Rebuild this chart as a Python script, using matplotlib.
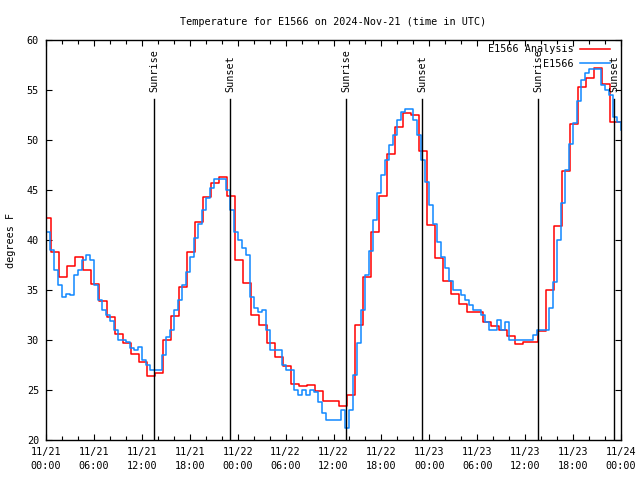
import numpy as np
import matplotlib
matplotlib.use("Agg")
import matplotlib.pyplot as plt
import matplotlib.dates as mdates

# analysis: hourly values, first step starts 20 min before midnight
red_start = np.datetime64("2024-11-20T23:40")
red_temp = [42.2, 38.8, 36.3, 37.4, 38.3, 37.0, 35.6, 33.9, 32.3, 30.6, 29.7, 28.6,
            27.8, 26.4, 26.7, 30.0, 32.4, 35.3, 38.8, 41.8, 44.3, 45.7, 46.3, 44.4,
            38.0, 35.7, 32.5, 31.5, 29.7, 28.3, 27.4, 25.6, 25.4, 25.5, 24.9, 23.9,
            23.9, 23.4, 24.5, 31.5, 36.3, 40.8, 44.4, 48.6, 51.3, 52.7, 52.5, 48.9,
            41.5, 38.2, 35.9, 34.6, 33.6, 32.8, 32.8, 31.8, 31.4, 31.0, 30.4, 29.6,
            29.8, 29.8, 30.9, 35.0, 41.4, 46.9, 51.6, 55.3, 56.2, 57.2, 55.6, 51.8, 51.8]

# observations: half-hourly values from 11/21 00:00
blue_start = np.datetime64("2024-11-21T00:00")
blue_temp = [40.8, 39.0, 37.0, 35.5, 34.3, 34.6, 34.5, 36.5, 37.0, 38.0, 38.5, 38.0,
             35.5, 34.0, 33.0, 32.5, 31.9, 31.0, 30.0, 30.0, 29.8, 29.2, 29.0, 29.3,
             28.0, 27.5, 27.0, 27.0, 27.0, 28.5, 30.3, 31.0, 33.0, 34.0, 35.5, 36.8,
             38.3, 40.2, 41.6, 43.0, 44.2, 45.2, 46.1, 46.1, 46.1, 45.0, 43.0, 40.8,
             40.0, 39.2, 38.5, 34.3, 33.2, 32.8, 33.0, 31.0, 29.0, 29.0, 29.0, 27.5,
             27.0, 27.0, 25.0, 24.5, 25.0, 24.5, 25.0, 24.8, 23.8, 22.7, 22.0, 22.0,
             22.0, 22.0, 23.0, 21.2, 23.0, 26.5, 29.7, 33.0, 36.5, 38.9, 42.0, 44.7,
             46.5, 48.0, 49.5, 50.5, 52.0, 52.8, 53.1, 53.1, 52.0, 50.5, 48.0, 45.8,
             43.5, 41.6, 39.8, 38.3, 37.2, 35.9, 35.0, 35.0, 34.5, 34.0, 33.5, 33.0,
             33.0, 32.5, 31.8, 31.0, 31.0, 32.0, 31.0, 31.8, 30.0, 30.0, 30.0, 30.0,
             30.0, 30.0, 30.5, 31.0, 31.0, 31.0, 33.2, 35.8, 40.0, 43.7, 47.0, 49.6,
             51.7, 53.9, 56.0, 56.7, 57.1, 57.1, 57.1, 55.5, 55.0, 54.5, 52.3, 51.8, 51.0]

sun_events = ["2024-11-21T13:34", "2024-11-21T23:05", "2024-11-22T13:36",
              "2024-11-22T23:07", "2024-11-23T13:39", "2024-11-23T23:10"]
sun_labels = ["Sunrise", "Sunset", "Sunrise", "Sunset", "Sunrise", "Sunset"]

FONT = "DejaVu Sans Mono"
FS = 7.3

red_t = red_start + np.arange(len(red_temp) + 1) * np.timedelta64(60, "m")
red_y = red_temp + [red_temp[-1]]
blue_t = blue_start + np.arange(len(blue_temp)) * np.timedelta64(30, "m")

fig = plt.figure(figsize=(6.4, 4.8), dpi=100)
ax = fig.add_axes([46 / 640, 40 / 480, 575 / 640, 400 / 480])

ax.step(red_t, red_y, where="post", color="#ff0000", lw=1.1, label="E1566 Analysis")
ax.step(blue_t, blue_temp, where="post", color="#1088ff", lw=1.1, label="E1566")

for ts, lab in zip(sun_events, sun_labels):
    t = np.datetime64(ts)
    ax.plot([t, t], [20, 54.1], color="black", lw=1.0)
    ax.text(t, 54.8, lab, rotation=90, ha="center", va="bottom",
            family=FONT, fontsize=FS)

ax.set_xlim(np.datetime64("2024-11-21T00:00"), np.datetime64("2024-11-24T00:00"))
ax.set_ylim(20, 60)
ax.set_yticks(np.arange(20, 61, 5))
ax.xaxis.set_major_locator(mdates.HourLocator(byhour=[0, 6, 12, 18]))
ax.xaxis.set_minor_locator(mdates.HourLocator(byhour=range(0, 24, 2)))
ax.xaxis.set_major_formatter(mdates.DateFormatter("%m/%d\n%H:%M"))

ax.tick_params(which="both", direction="in", top=True, right=True, colors="black")
ax.tick_params(which="major", length=4, width=0.8, pad=5)
ax.tick_params(which="minor", length=3, width=0.8)
for lbl in ax.get_xticklabels() + ax.get_yticklabels():
    lbl.set_family(FONT)
    lbl.set_fontsize(FS)
    lbl.set_linespacing(1.45)
for s in ax.spines.values():
    s.set_linewidth(1.0)

ax.set_title("Temperature for E1566 on 2024-Nov-21 (time in UTC)",
             family=FONT, fontsize=FS, pad=11)
ax.set_ylabel("degrees F", family=FONT, fontsize=FS, labelpad=8)

leg = ax.legend(loc="upper right", frameon=False, markerfirst=False,
                prop={"family": FONT, "size": FS}, handlelength=3.0,
                handletextpad=0.6, labelspacing=0.45, borderaxespad=0.2,
                bbox_to_anchor=(0.992, 1.005))

fig.savefig("out.png", dpi=100)
